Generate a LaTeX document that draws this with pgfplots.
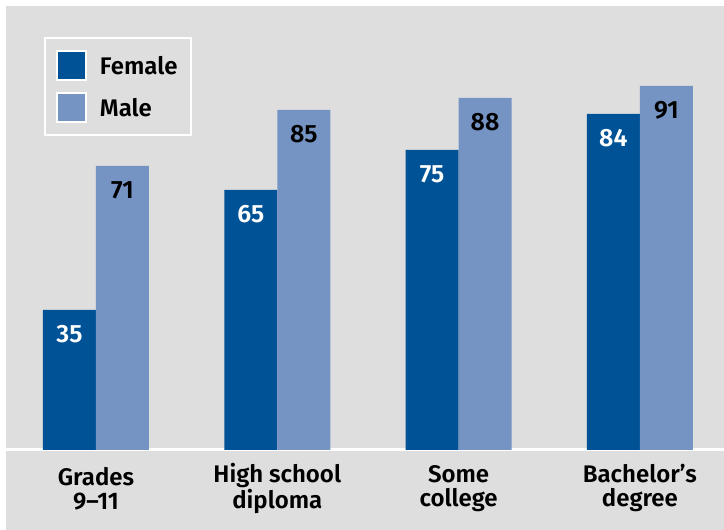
\documentclass[border=0pt]{standalone}
\usepackage{pgfplots}
\pgfplotsset{compat=1.18}
\usepackage{fontspec}
\setmainfont{Fira Sans}[BoldFont={Fira Sans SemiBold}]

\definecolor{bggrey}{RGB}{222,222,222}
\definecolor{femblue}{RGB}{0,82,150}
\definecolor{maleblue}{RGB}{117,148,196}

\begin{document}
\begin{tikzpicture}
\useasboundingbox (0,0) rectangle (724pt,530pt);
\fill[white] (0,0) rectangle (724pt,530pt);
\begin{axis}[
  at={(6pt,0pt)}, anchor=south west,
  scale only axis, width=718pt, height=524pt,
  xmin=-0.4964, xmax=3.464, ymin=-20, ymax=111,
  axis background/.style={fill=bggrey},
  axis line style={draw=none},
  tick style={draw=none},
  ytick=\empty,
  xtick={0,1,2,3},
  xticklabels={Grades\\9--11, High school\\diploma, Some\\college, Bachelor's\\degree},
  xticklabel style={align=center, anchor=center, yshift=46pt,
    font=\fontsize{24}{24}\selectfont\bfseries},
  extra y ticks={0}, extra y tick labels={},
  extra y tick style={grid=major, major grid style={white, line width=3pt}},
  ybar=0pt, bar width=53pt,
  nodes near coords,
  /pgf/number format/assume math mode=true,
  every node near coord/.append style={anchor=center, yshift=-24pt,
    font=\fontsize{25}{25}\selectfont\bfseries},
  legend style={at={(0.0529,0.9408)}, anchor=north west,
    draw=white, line width=2pt, fill=none,
    font=\fontsize{24}{24}\selectfont\bfseries,
    inner xsep=11pt, inner ysep=12pt, row sep=11pt,
    /tikz/every odd column/.append style={column sep=11pt}},
  legend cell align=left,
  legend image code/.code={\draw[#1, draw=white, line width=2pt] (0pt,-14pt) rectangle (29pt,15pt);},
]
\addplot[fill=femblue, draw=none, nodes near coords style={text=white}]
  coordinates {(0,35) (1,65) (2,75) (3,84)};
\addplot[fill=maleblue, draw=none, nodes near coords style={text=black}]
  coordinates {(0,71) (1,85) (2,88) (3,91)};
\legend{Female, Male}
\end{axis}
\end{tikzpicture}
\end{document}
